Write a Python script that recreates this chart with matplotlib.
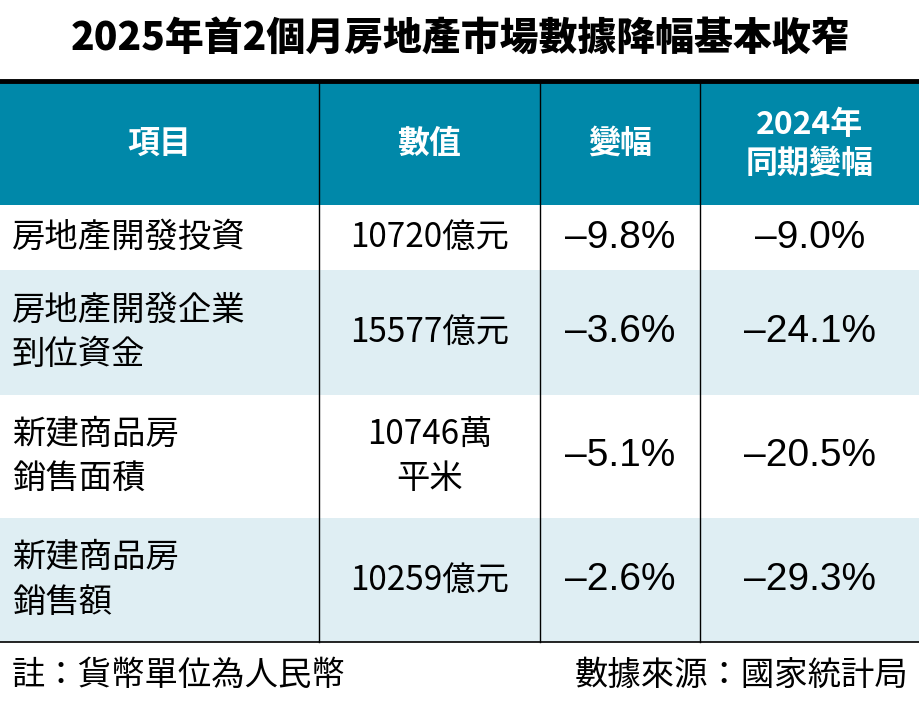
import matplotlib.pyplot as plt
from matplotlib.patches import Rectangle

cjk = ['Noto Sans CJK TC', 'Noto Sans CJK JP', 'Noto Sans CJK SC', 'DejaVu Sans']
plt.rcParams['font.family'] = cjk

title = '2025年首2個月房地產市場數據降幅基本收窄'
headers = ['項目', '數值', '變幅', '2024年\n同期變幅']
items = ['房地產開發投資', '房地產開發企業\n到位資金', '新建商品房\n銷售面積', '新建商品房\n銷售額']
values = ['10720億元', '15577億元', '10746萬\n平米', '10259億元']
changes = ['–9.8%', '–3.6%', '–5.1%', '–2.6%']
changes_2024 = ['–9.0%', '–24.1%', '–20.5%', '–29.3%']
note_left = '註：貨幣單位為人民幣'
note_right = '數據來源：國家統計局'

W, H = 920, 707
teal = '#0088a9'
light = '#dfeef3'

fig = plt.figure(figsize=(W / 100, H / 100), dpi=100)
ax = fig.add_axes([0, 0, 1, 1])
ax.set_xlim(0, W)
ax.set_ylim(H, 0)
ax.axis('off')

ax.text(W / 2, 38, title, ha='center', va='center', fontsize=28, fontweight='heavy')
ax.plot([0, W], [81, 81], color='black', lw=3.5)

col_x = [0, 319, 540, 700, W]
row_y = [83, 205, 270, 395, 518, 642]

ax.add_patch(Rectangle((0, row_y[0]), W, row_y[1] - row_y[0], color=teal, lw=0))
for i in range(4):
    if i % 2 == 1:
        ax.add_patch(Rectangle((0, row_y[i + 1]), W, row_y[i + 2] - row_y[i + 1], color=light, lw=0))

for x in col_x[1:-1]:
    ax.plot([x, x], [row_y[0], row_y[-1]], color='black', lw=1)
ax.plot([0, W], [row_y[-1], row_y[-1]], color='black', lw=1.2)

for j, h in enumerate(headers):
    cx = (col_x[j] + col_x[j + 1]) / 2
    ax.text(cx, (row_y[0] + row_y[1]) / 2, h, ha='center', va='center', color='white',
            fontsize=23, fontweight='bold', linespacing=1.25)

for i in range(4):
    cy = (row_y[i + 1] + row_y[i + 2]) / 2
    ax.text(12, cy, items[i], ha='left', va='center', fontsize=24, linespacing=1.35)
    ax.text((col_x[1] + col_x[2]) / 2, cy, values[i], ha='center', va='center',
            fontsize=24, linespacing=1.35)
    for j, t in enumerate([changes[i], changes_2024[i]]):
        cx = (col_x[j + 2] + col_x[j + 3]) / 2
        ax.text(cx, cy, t, ha='center', va='center', fontsize=28, family='Liberation Sans')

ax.text(12, 675, note_left, ha='left', va='center', fontsize=24)
ax.text(908, 675, note_right, ha='right', va='center', fontsize=24)

fig.savefig('out.png', dpi=100)
